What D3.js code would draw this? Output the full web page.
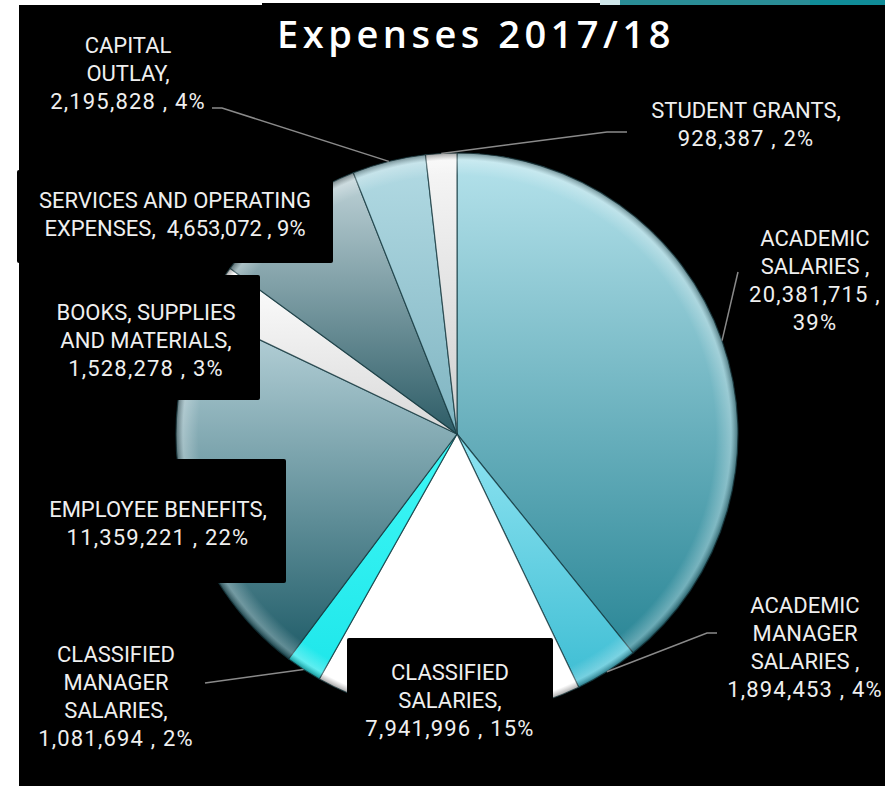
<!DOCTYPE html>
<html>
<head>
<meta charset="utf-8">
<script src="https://cdn.jsdelivr.net/npm/d3@7"></script>
<style>
  html, body { margin: 0; padding: 0; background: #fff; }
  svg { display: block; }
  .lbl { font-family: Roboto, 'Liberation Sans', sans-serif; font-size: 22px; fill: #efefef; }
  .num { letter-spacing: 1.2px; }
  .title { font-family: 'Open Sans', sans-serif; font-size: 38px; font-weight: 600; fill: #fff; letter-spacing: 4.5px; }
</style>
</head>
<body>
<div id="chart"></div>
<script>
const categories = [
  'ACADEMIC SALARIES',
  'ACADEMIC MANAGER SALARIES',
  'CLASSIFIED SALARIES',
  'CLASSIFIED MANAGER SALARIES',
  'EMPLOYEE BENEFITS',
  'BOOKS, SUPPLIES AND MATERIALS',
  'SERVICES AND OPERATING EXPENSES',
  'CAPITAL OUTLAY',
  'STUDENT GRANTS'
];
const amounts = [20381715, 1894453, 7941996, 1081694, 11359221, 1528278, 4653072, 2195828, 928387];
const chartTitle = 'Expenses 2017/18';

// how each label is broken into lines; {v} = amount, {p} = percent
const labelLines = [
  ['ACADEMIC', 'SALARIES ,', '{v} ,', '{p}'],
  ['ACADEMIC', 'MANAGER', 'SALARIES ,', '{v} , {p}'],
  ['CLASSIFIED', 'SALARIES,', '{v} , {p}'],
  ['CLASSIFIED', 'MANAGER', 'SALARIES,', '{v} , {p}'],
  ['EMPLOYEE BENEFITS,', '{v} , {p}'],
  ['BOOKS, SUPPLIES', 'AND MATERIALS,', '{v} , {p}'],
  ['SERVICES AND OPERATING', 'EXPENSES,  {v} , {p}'],
  ['CAPITAL', 'OUTLAY,', '{v} , {p}'],
  ['STUDENT GRANTS,', '{v} , {p}']
];

// layout: label centre x, first baseline y, optional black box, optional leader start
const labelPos = [
  { x: 815, y: 246, leader: [[738, 272]] },
  { x: 805, y: 613, leader: [[717, 633], [707, 633]] },
  { x: 450, y: 680, box: [347, 638, 553, 764] },
  { x: 116, y: 662, leader: [[205, 683]] },
  { x: 158, y: 517, box: [30, 459, 286, 583] },
  { x: 146, y: 320, box: [32, 275, 260, 400] },
  { x: 175, y: 208, box: [17, 170, 333, 263] },
  { x: 128, y: 53, leader: [[212, 108], [222, 108]] },
  { x: 746, y: 118, leader: [[627, 132], [607, 132]] }
];

const sliceColors = [
  ['#b6e3ec', '#2a8696'],
  ['#8fe4f2', '#3dbdd3'],
  ['#ffffff', '#ffffff'],
  ['#3ff8f6', '#1ee6ea'],
  ['#bcd6dd', '#1f5c68'],
  ['#ffffff', '#d8d8d8'],
  ['#bfd3d8', '#2d5c66'],
  ['#b3dbe4', '#7fb4c1'],
  ['#f7f7f7', '#cfcfcf']
];

const W = 885, H = 786;
const cx = 457, cy = 434, R = 281;
const lineH = 28;

const data = categories.map((c, i) => ({ name: c, value: amounts[i], i }));
const total = d3.sum(amounts);
const fmtV = d3.format(',');
const fmtP = d3.format('.0%');

const svg = d3.select('#chart').append('svg').attr('width', W).attr('height', H);
const defs = svg.append('defs');

sliceColors.forEach((c, i) => {
  const g = defs.append('linearGradient').attr('id', 'g' + i)
    .attr('x1', 0).attr('y1', 0).attr('x2', 0).attr('y2', 1);
  g.append('stop').attr('offset', '0%').attr('stop-color', c[0]);
  g.append('stop').attr('offset', '100%').attr('stop-color', c[1]);
});

const rim = defs.append('radialGradient').attr('id', 'rim')
  .attr('cx', '50%').attr('cy', '50%').attr('r', '50%');
rim.append('stop').attr('offset', '0.92').attr('stop-color', '#fff').attr('stop-opacity', 0);
rim.append('stop').attr('offset', '0.975').attr('stop-color', '#fff').attr('stop-opacity', 0.28);
rim.append('stop').attr('offset', '1').attr('stop-color', '#000').attr('stop-opacity', 0.35);

// background
svg.append('rect').attr('x', 19).attr('y', 5).attr('width', W - 19).attr('height', H - 5).attr('fill', '#000');
svg.append('rect').attr('x', 262).attr('y', 3).attr('width', 340).attr('height', 3).attr('fill', '#000');
svg.append('rect').attr('x', 600).attr('y', 0).attr('width', 20).attr('height', 5).attr('fill', '#cfe6ea');
svg.append('rect').attr('x', 620).attr('y', 0).attr('width', 190).attr('height', 5).attr('fill', '#2a8d96');
svg.append('rect').attr('x', 810).attr('y', 0).attr('width', 75).attr('height', 5).attr('fill', '#108c98');

const pie = d3.pie().sort(null).value(d => d.value);
const arcs = pie(data);
const arc = d3.arc().innerRadius(0).outerRadius(R);
const edgeArc = d3.arc().innerRadius(R).outerRadius(R);

const gPie = svg.append('g').attr('transform', `translate(${cx},${cy})`);

gPie.selectAll('path.slice')
  .data(arcs)
  .enter()
  .append('path')
  .attr('class', 'slice')
  .attr('d', arc)
  .attr('fill', d => `url(#g${d.data.i})`)
  .attr('stroke', '#163940')
  .attr('stroke-opacity', 0.75)
  .attr('stroke-width', 1.2)
  .attr('stroke-linejoin', 'round');

gPie.append('circle').attr('r', R).attr('fill', 'url(#rim)').attr('pointer-events', 'none');

// label boxes
svg.append('g').selectAll('rect')
  .data(labelPos.filter(p => p.box))
  .enter()
  .append('rect')
  .attr('x', p => p.box[0])
  .attr('y', p => p.box[1])
  .attr('width', p => p.box[2] - p.box[0])
  .attr('height', p => p.box[3] - p.box[1])
  .attr('rx', 2)
  .attr('fill', '#000');

// leader lines
const leaders = svg.append('g');
arcs.forEach((a, i) => {
  const p = labelPos[i];
  if (!p.leader) return;
  const end = edgeArc.centroid(a);
  const pts = p.leader.concat([[cx + end[0], cy + end[1]]]);
  leaders.append('path')
    .attr('d', d3.line()(pts))
    .attr('fill', 'none')
    .attr('stroke', '#8a8a8a')
    .attr('stroke-width', 1.5);
});

// labels
const labels = svg.append('g');
data.forEach((d, i) => {
  const p = labelPos[i];
  const t = labels.append('text')
    .attr('class', 'lbl')
    .attr('text-anchor', 'middle')
    .attr('x', p.x)
    .attr('y', p.y)
    .attr('xml:space', 'preserve')
    .style('white-space', 'pre');
  labelLines[i].forEach((ln, k) => {
    t.append('tspan')
      .attr('class', /\{[vp]\}/.test(ln) && !/[A-Z]/.test(ln) ? 'num' : null)
      .attr('x', p.x)
      .attr('dy', k === 0 ? 0 : lineH)
      .text(ln.replace('{v}', fmtV(d.value)).replace('{p}', fmtP(d.value / total)));
  });
});

svg.append('text')
  .attr('class', 'title')
  .attr('x', 476)
  .attr('y', 48)
  .attr('text-anchor', 'middle')
  .text(chartTitle);
</script>
</body>
</html>
